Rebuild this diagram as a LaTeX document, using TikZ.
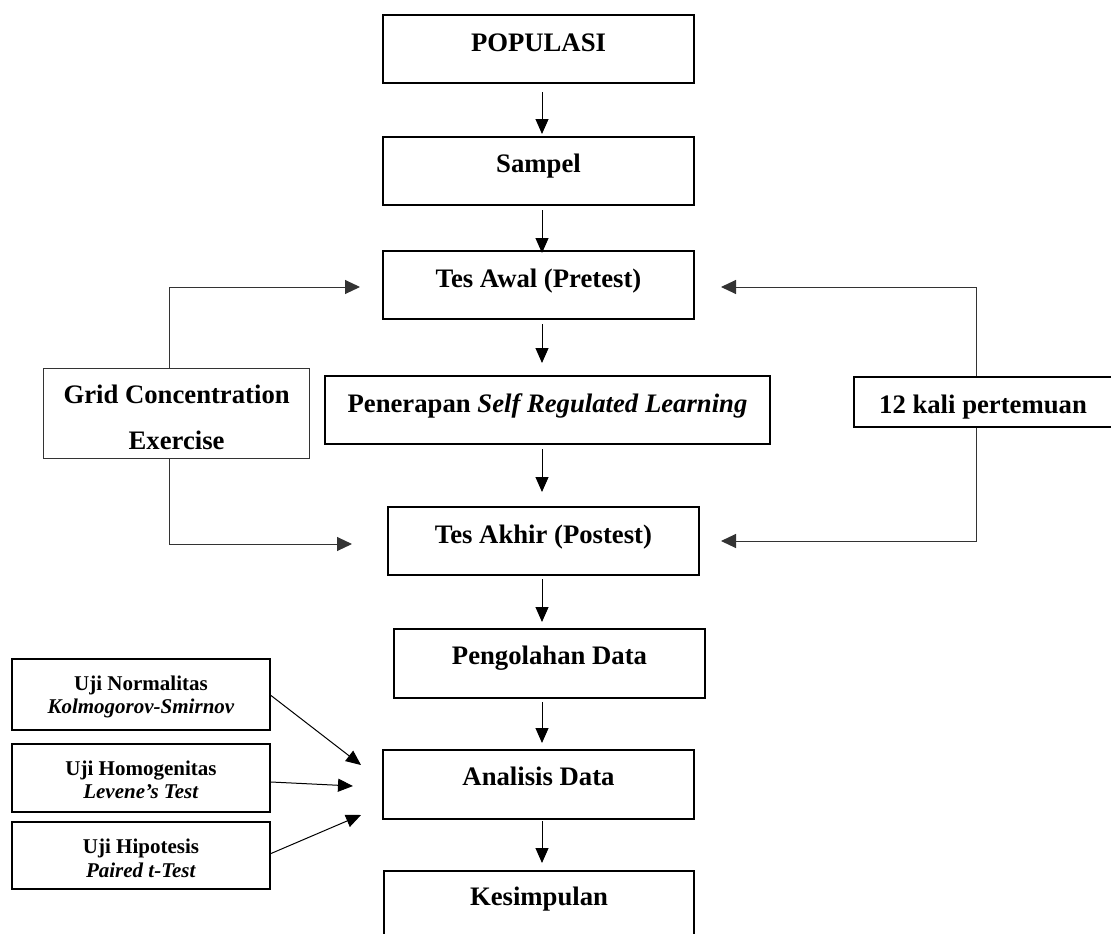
\documentclass[tikz,border=0pt]{standalone}
\usepackage{fontspec}
\setmainfont{Liberation Serif}
\usetikzlibrary{arrows.meta}
\newcommand\mainf{\fontsize{26.7}{32}\selectfont\bfseries}
\newcommand\smallf{\fontsize{21}{23}\selectfont\bfseries}
\begin{document}
\begin{tikzpicture}[x=1pt,y=1pt,
  box/.style={draw, rectangle, line width=2pt, inner sep=0pt, anchor=north west},
  thinbox/.style={draw=black!80, rectangle, line width=1.2pt, inner sep=0pt, anchor=north west},
  txt/.style={font=\mainf, anchor=base, inner sep=0pt},
  stxt/.style={font=\smallf, anchor=base, inner sep=0pt},
  arr/.style={line width=1pt, -{Triangle[length=15pt,width=13pt]}},
  conn/.style={draw=black!80, line width=1pt, -{Triangle[length=15pt,width=14pt]}}]
\useasboundingbox (0,0) rectangle (1111,-934);
% main column boxes
\node[box, minimum width=311pt, minimum height=68pt] (pop) at (382,-14) {};
\node[box, minimum width=311pt, minimum height=68pt] (samp) at (382,-136) {};
\node[box, minimum width=311pt, minimum height=68pt] (awal) at (382,-250) {};
\node[box, minimum width=445pt, minimum height=68pt] (pen) at (324,-375) {};
\node[box, minimum width=311pt, minimum height=68pt] (akhir) at (387,-506) {};
\node[box, minimum width=311pt, minimum height=69pt] (olah) at (393,-628) {};
\node[box, minimum width=311pt, minimum height=69pt] (anal) at (382,-749) {};
\node[box, minimum width=310pt, minimum height=68pt] (kes) at (383,-870) {};
% side boxes
\node[thinbox, minimum width=266pt, minimum height=90pt] (grid) at (43,-368) {};
\node[box, line width=1.6pt, minimum width=262pt, minimum height=50pt] (kali) at (853,-376) {};
\node[box, minimum width=258pt, minimum height=71pt] (norm) at (11,-658) {};
\node[box, minimum width=258pt, minimum height=68pt] (homo) at (11,-743) {};
\node[box, minimum width=258pt, minimum height=67pt] (hipo) at (11,-821) {};
% texts
\node[txt] (popt) at ([yshift=-38pt]pop.north) {POPULASI};
\node[txt] (sampt) at ([yshift=-36pt]samp.north) {Sampel};
\node[txt] (awalt) at ([yshift=-37pt]awal.north) {Tes Awal (Pretest)};
\node[txt] (pent) at ([yshift=-37pt]pen.north) {Penerapan \textit{Self Regulated Learning}};
\node[txt] (akhirt) at ([yshift=-37pt]akhir.north) {Tes Akhir (Postest)};
\node[txt] (olaht) at ([yshift=-36pt]olah.north) {Pengolahan Data};
\node[txt] (analt) at ([yshift=-36pt]anal.north) {Analisis Data};
\node[txt] (kest) at ([yshift=-35pt]kes.north) {Kesimpulan};
\node[txt] (gridt1) at ([yshift=-35pt]grid.north) {Grid Concentration};
\node[txt] (gridt2) at ([yshift=-81pt]grid.north) {Exercise};
\node[txt] (kalit) at (983,-413) {12 kali pertemuan};
\node[stxt] (normt1) at ([yshift=-32pt]norm.north) {Uji Normalitas};
\node[stxt] (normt2) at ([yshift=-55pt]norm.north) {\textit{Kolmogorov-Smirnov}};
\node[stxt] (homot1) at ([yshift=-32pt]homo.north) {Uji Homogenitas};
\node[stxt] (homot2) at ([yshift=-55pt]homo.north) {\textit{Levene’s Test}};
\node[stxt] (hipot1) at ([yshift=-32pt]hipo.north) {Uji Hipotesis};
\node[stxt] (hipot2) at ([yshift=-56pt]hipo.north) {\textit{Paired t-Test}};
% main column arrows
\coordinate (ax) at (542,0);
\draw[arr] ([yshift=-8pt]pop.south -| ax) -- ([yshift=2pt]samp.north -| ax);
\draw[arr] ([yshift=-4pt]samp.south -| ax) -- ([yshift=-3pt]awal.north -| ax);
\draw[arr] ([yshift=-4pt]awal.south -| ax) -- ([yshift=12pt]pen.north -| ax);
\draw[arr] ([yshift=-4pt]pen.south -| ax) -- ([yshift=14pt]akhir.north -| ax);
\draw[arr] ([yshift=-3pt]akhir.south -| ax) -- ([yshift=6pt]olah.north -| ax);
\draw[arr] ([yshift=-3pt]olah.south -| ax) -- ([yshift=6pt]anal.north -| ax);
\draw[arr] ([yshift=-1pt]anal.south -| ax) -- ([yshift=7pt]kes.north -| ax);
% side connectors
\coordinate (gl) at (169,0);
\coordinate (kl) at (976,0);
\draw[conn] (grid.north -| gl) |- ([xshift=-22pt,yshift=-2pt]awal.west);
\draw[conn] (grid.south -| gl) |- ([xshift=-35pt,yshift=-3pt]akhir.west);
\draw[conn] (kali.north -| kl) |- ([xshift=26pt,yshift=-2pt]awal.east);
\draw[conn] (kali.south -| kl) |- ([xshift=21pt]akhir.east);
% test arrows
\draw[arr] ([yshift=-1pt]norm.east) -- ([xshift=-21pt,yshift=19.5pt]anal.west);
\draw[arr] ([yshift=-4pt]homo.east) -- ([xshift=-29pt,yshift=-1.5pt]anal.west);
\draw[arr] ([yshift=2pt]hipo.east) -- ([xshift=-21pt,yshift=-30.5pt]anal.west);
\end{tikzpicture}
\end{document}
